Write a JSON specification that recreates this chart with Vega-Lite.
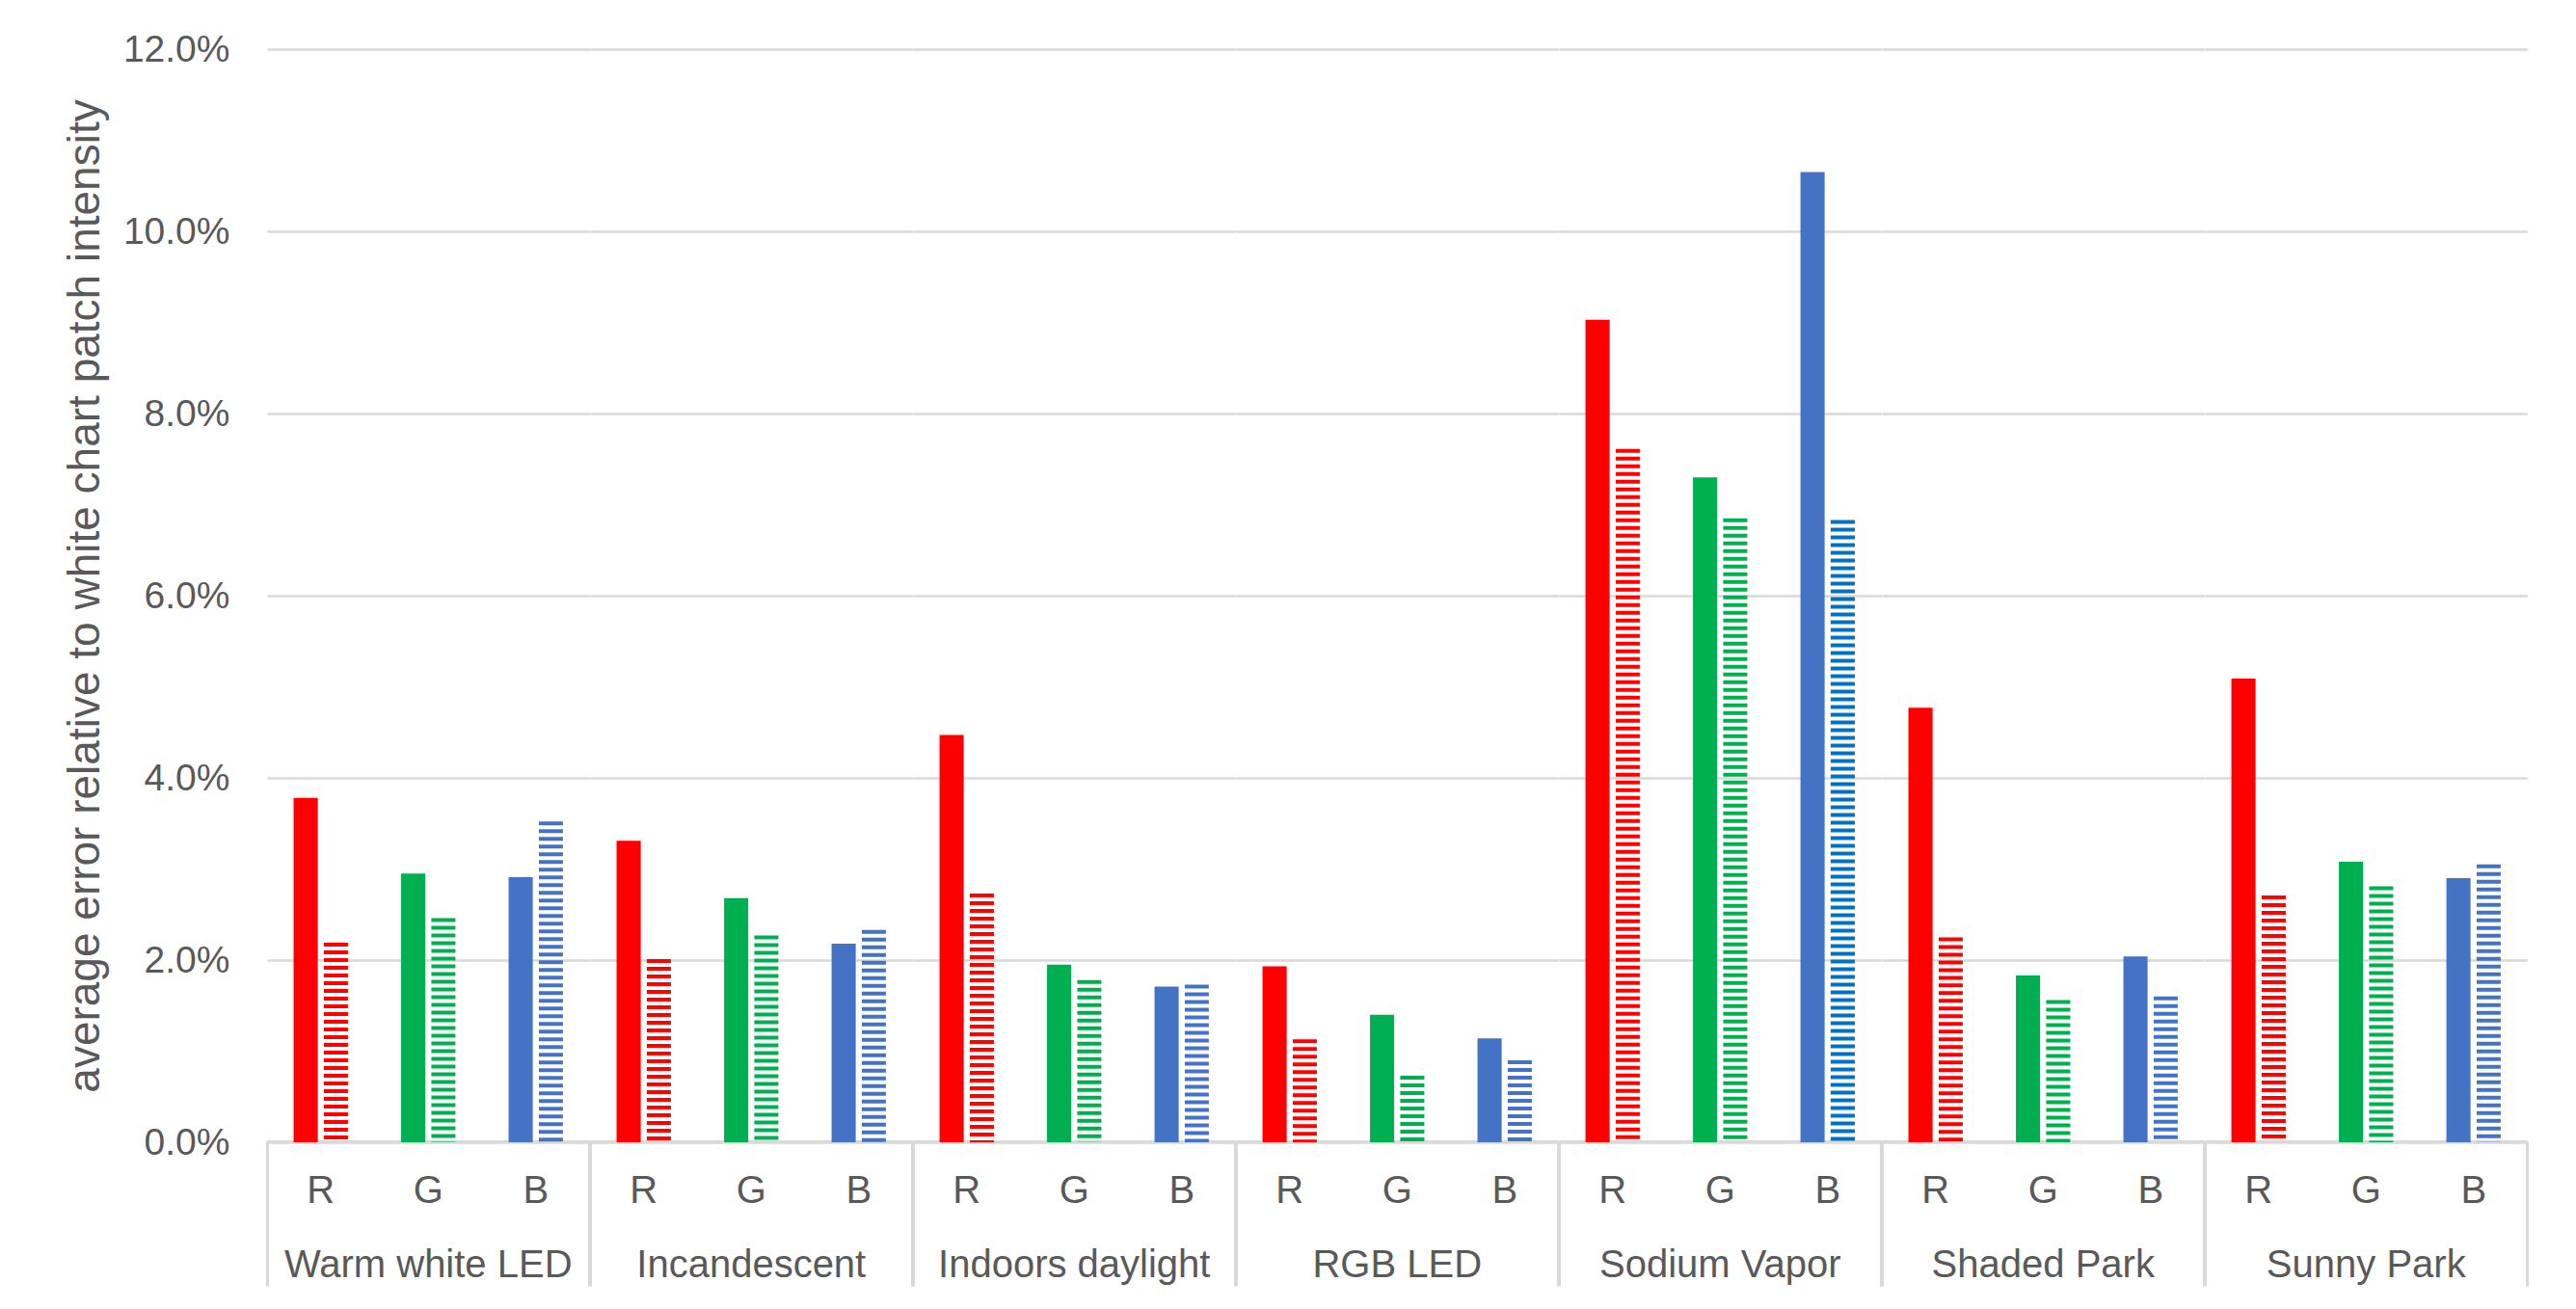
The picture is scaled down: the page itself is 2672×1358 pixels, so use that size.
{
  "$schema": "https://vega.github.io/schema/vega-lite/v6.json",
  "background": "white",
  "padding": {"left": 65, "top": 32, "right": 40, "bottom": 10},
  "config": {
    "font": "Liberation Sans",
    "view": {"stroke": null},
    "axis": {"labelFont": "Liberation Sans", "titleFont": "Liberation Sans", "labelColor": "#595959", "titleColor": "#595959"}
  },
  "data": {
    "values": [
      {"source": "Warm white LED", "channel": "R", "kind": "solid", "value": 0.0378},
      {"source": "Warm white LED", "channel": "R", "kind": "hatched", "value": 0.0219},
      {"source": "Warm white LED", "channel": "G", "kind": "solid", "value": 0.0295},
      {"source": "Warm white LED", "channel": "G", "kind": "hatched", "value": 0.0246},
      {"source": "Warm white LED", "channel": "B", "kind": "solid", "value": 0.0291},
      {"source": "Warm white LED", "channel": "B", "kind": "hatched", "value": 0.0352},
      {"source": "Incandescent", "channel": "R", "kind": "solid", "value": 0.0331},
      {"source": "Incandescent", "channel": "R", "kind": "hatched", "value": 0.0201},
      {"source": "Incandescent", "channel": "G", "kind": "solid", "value": 0.0268},
      {"source": "Incandescent", "channel": "G", "kind": "hatched", "value": 0.0227},
      {"source": "Incandescent", "channel": "B", "kind": "solid", "value": 0.0218},
      {"source": "Incandescent", "channel": "B", "kind": "hatched", "value": 0.0233},
      {"source": "Indoors daylight", "channel": "R", "kind": "solid", "value": 0.0447},
      {"source": "Indoors daylight", "channel": "R", "kind": "hatched", "value": 0.0273},
      {"source": "Indoors daylight", "channel": "G", "kind": "solid", "value": 0.0195},
      {"source": "Indoors daylight", "channel": "G", "kind": "hatched", "value": 0.0178},
      {"source": "Indoors daylight", "channel": "B", "kind": "solid", "value": 0.0171},
      {"source": "Indoors daylight", "channel": "B", "kind": "hatched", "value": 0.0173},
      {"source": "RGB LED", "channel": "R", "kind": "solid", "value": 0.0193},
      {"source": "RGB LED", "channel": "R", "kind": "hatched", "value": 0.0113},
      {"source": "RGB LED", "channel": "G", "kind": "solid", "value": 0.0140},
      {"source": "RGB LED", "channel": "G", "kind": "hatched", "value": 0.0073},
      {"source": "RGB LED", "channel": "B", "kind": "solid", "value": 0.0114},
      {"source": "RGB LED", "channel": "B", "kind": "hatched", "value": 0.0090},
      {"source": "Sodium Vapor", "channel": "R", "kind": "solid", "value": 0.0903},
      {"source": "Sodium Vapor", "channel": "R", "kind": "hatched", "value": 0.0761},
      {"source": "Sodium Vapor", "channel": "G", "kind": "solid", "value": 0.0730},
      {"source": "Sodium Vapor", "channel": "G", "kind": "hatched", "value": 0.0685},
      {"source": "Sodium Vapor", "channel": "B", "kind": "solid", "value": 0.1065},
      {"source": "Sodium Vapor", "channel": "B", "kind": "hatched", "value": 0.0683},
      {"source": "Shaded Park", "channel": "R", "kind": "solid", "value": 0.0477},
      {"source": "Shaded Park", "channel": "R", "kind": "hatched", "value": 0.0225},
      {"source": "Shaded Park", "channel": "G", "kind": "solid", "value": 0.0183},
      {"source": "Shaded Park", "channel": "G", "kind": "hatched", "value": 0.0156},
      {"source": "Shaded Park", "channel": "B", "kind": "solid", "value": 0.0204},
      {"source": "Shaded Park", "channel": "B", "kind": "hatched", "value": 0.0160},
      {"source": "Sunny Park", "channel": "R", "kind": "solid", "value": 0.0509},
      {"source": "Sunny Park", "channel": "R", "kind": "hatched", "value": 0.0271},
      {"source": "Sunny Park", "channel": "G", "kind": "solid", "value": 0.0308},
      {"source": "Sunny Park", "channel": "G", "kind": "hatched", "value": 0.0281},
      {"source": "Sunny Park", "channel": "B", "kind": "solid", "value": 0.0290},
      {"source": "Sunny Park", "channel": "B", "kind": "hatched", "value": 0.0305}
    ]
  },
  "spacing": 0,
  "facet": {
    "column": {
      "field": "source",
      "type": "nominal",
      "sort": ["Warm white LED", "Incandescent", "Indoors daylight", "RGB LED", "Sodium Vapor", "Shaded Park", "Sunny Park"],
      "title": null,
      "header": {"labelOrient": "bottom", "labelFont": "Liberation Sans", "labelFontSize": 40, "labelColor": "#595959", "labelPadding": -43}
    }
  },
  "spec": {
    "width": 334.5,
    "height": 1134,
    "resolve": {"axis": {"x": "independent"}},
    "layer": [
      {
        "transform": [{"filter": "datum.kind === 'solid'"}],
        "mark": {"type": "bar"},
        "encoding": {
          "x": {"field": "channel", "type": "nominal", "sort": ["R", "G", "B"],
                "scale": {"paddingInner": 0, "paddingOuter": 0},
                "axis": {"orient": "bottom", "offset": -14, "title": null, "labelAngle": 0, "ticks": false, "labelFontSize": 40, "labelPadding": 31, "domainColor": "#d9d9d9", "domainWidth": 3}},
          "xOffset": {"field": "kind", "type": "nominal", "sort": ["solid", "hatched"], "scale": {"domain": ["solid", "hatched"], "paddingInner": 0.2, "paddingOuter": 0.88}},
          "y": {"field": "value", "type": "quantitative", "scale": {"domain": [0, 0.12]},
                "axis": {"title": "average error relative to white chart patch intensity", "titleFontSize": 46, "titleFontWeight": "normal", "titlePadding": 15, "format": ".1%", "values": [0, 0.02, 0.04, 0.06, 0.08, 0.1, 0.12], "labelFontSize": 39, "labelPadding": 39, "ticks": false, "domain": false, "gridColor": "#d9d9d9", "gridWidth": 2.5}},
          "color": {"field": "channel", "type": "nominal", "scale": {"domain": ["R", "G", "B"], "range": ["#ff0000", "#00b050", "#4472c4"]}, "legend": null}
        }
      },
      {
        "transform": [{"filter": "datum.kind === 'hatched'"}],
        "mark": {"type": "rule", "strokeWidth": 25, "strokeDash": [4, 4], "strokeCap": "butt"},
        "encoding": {
          "x": {"field": "channel", "type": "nominal", "sort": ["R", "G", "B"], "axis": null},
          "xOffset": {"field": "kind", "type": "nominal", "sort": ["solid", "hatched"]},
          "y": {"field": "value", "type": "quantitative"},
          "y2": {"datum": 0},
          "color": {
            "condition": {"test": "datum.source === 'Sodium Vapor' && datum.channel === 'B'", "value": "#0070c0"},
            "field": "channel", "type": "nominal", "legend": null
          }
        }
      },
      {
        "mark": {"type": "bar", "opacity": 0},
        "encoding": {
          "x": {"field": "channel", "type": "nominal", "sort": ["R", "G", "B"],
                "axis": {"orient": "bottom", "offset": -14, "values": ["R"], "bandPosition": 0, "labels": false, "domain": false, "grid": false, "title": null, "ticks": true, "tickSize": 150, "tickWidth": 3, "tickColor": "#d9d9d9"}},
          "y": {"field": "value", "type": "quantitative", "stack": null}
        }
      },
      {
        "mark": {"type": "bar", "opacity": 0},
        "encoding": {
          "x": {"field": "channel", "type": "nominal", "sort": ["R", "G", "B"],
                "axis": {"orient": "bottom", "offset": -14, "values": ["B"], "bandPosition": 1, "labels": false, "domain": false, "grid": false, "title": null, "ticks": true, "tickSize": 150, "tickWidth": 3, "tickColor": "#d9d9d9"}},
          "y": {"field": "value", "type": "quantitative", "stack": null}
        }
      }
    ]
  }
}
